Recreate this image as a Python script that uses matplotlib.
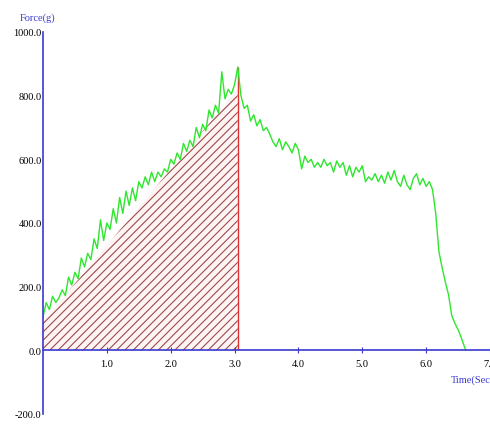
import numpy as np
import matplotlib
matplotlib.use('Agg')
import matplotlib.pyplot as plt

force = [105, 150, 128, 170, 150, 165, 190, 172, 230, 205,
         245, 225, 290, 262, 305, 285, 350, 320, 410, 345,
         400, 380, 445, 400, 480, 430, 500, 455, 510, 470,
         530, 510, 545, 520, 560, 530, 560, 545, 570, 560,
         600, 585, 620, 600, 650, 625, 660, 640, 700, 668,
         710, 690, 755, 730, 770, 745, 875, 790, 820, 805,
         835, 890, 800, 760, 770, 720, 740, 705, 725, 690,
         700, 680, 655, 640, 665, 630, 655, 640, 620, 650,
         630, 570, 610, 590, 600, 575, 590, 575, 600, 580,
         590, 560, 595, 575, 590, 550, 580, 545, 575, 560,
         580, 530, 545, 535, 555, 530, 550, 525, 560, 535,
         565, 530, 515, 550, 520, 505, 540, 555, 520, 540,
         515, 530, 505, 430, 310, 260, 215, 175, 110, 85,
         65, 40, 10]
time = [round(0.05 * i, 2) for i in range(len(force))]
time[-1] = 6.62
force[-1] = 0

# shaded work area (trapezoid under the rising part)
area_t = [0.0, 3.05]
area_f = [90, 820]
peak_t = 3.05
peak_f = 890

xticks = [1.0, 2.0, 3.0, 4.0, 5.0, 6.0, 7.0]
yticks = [-200, 0, 200, 400, 600, 800, 1000]

blue = '#3a3ad0'
serif = 'Liberation Serif'

fig = plt.figure(figsize=(4.9, 4.35), dpi=100)
ax = fig.add_axes([43 / 490, 1 - 415 / 435, 447 / 490, 382 / 435])
ax.set_xlim(0, 7.0)
ax.set_ylim(-200, 1000)

plt.rcParams['hatch.linewidth'] = 0.8
ax.fill([area_t[0], area_t[0], area_t[1], area_t[1]],
        [0, area_f[0], area_f[1], 0],
        facecolor='#fff4f4', edgecolor='#9c4a4a', hatch='////', linewidth=0)
ax.vlines(peak_t, 0, peak_f, color='#e03030', lw=1)
ax.plot(time, force, color='#2ee62e', lw=1)

for s in ['top', 'right']:
    ax.spines[s].set_visible(False)
ax.spines['bottom'].set_position(('data', 0))
ax.spines['bottom'].set_color(blue)
ax.spines['left'].set_color(blue)
ax.spines['left'].set_linewidth(1.2)
ax.spines['bottom'].set_linewidth(1.2)

ax.set_xticks(xticks)
ax.set_xticklabels(['%.1f' % v for v in xticks], fontsize=7.5, family=serif)
ax.set_yticks(yticks)
ax.set_yticklabels(['%.1f' % v for v in yticks], fontsize=7.5, family=serif)
ax.tick_params(axis='x', direction='inout', length=5, color=blue, pad=4)
ax.tick_params(axis='y', direction='inout', length=0, color=blue, pad=1)

fig.text(20 / 490, 1 - 18 / 435, 'Force(g)', color=blue, fontsize=7.5,
         family=serif, va='center')
fig.text(451 / 490, 1 - 380 / 435, 'Time(Sec)', color=blue, fontsize=7.5,
         family=serif, va='center')

fig.savefig('out.png', dpi=100)
